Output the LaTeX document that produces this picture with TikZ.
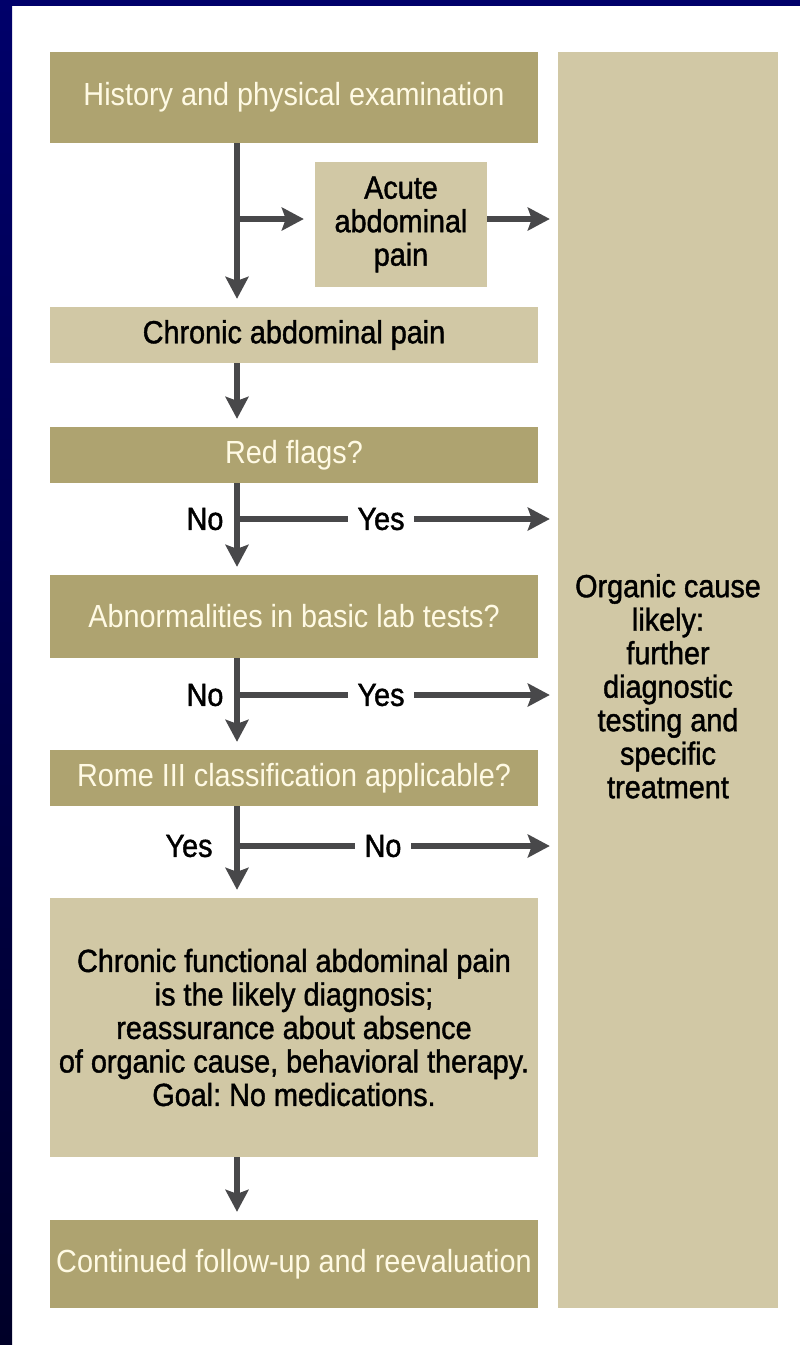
\documentclass[tikz,border=0pt]{standalone}
\usepackage{fontspec}
\setmainfont{Liberation Sans}[FakeStretch=0.9]
\newfontfamily\medfont{Liberation Sans}[FakeStretch=0.9, FakeBold=1.3]
\usetikzlibrary{arrows.meta}
\frenchspacing
\definecolor{darkk}{RGB}{174,163,112}
\definecolor{lightk}{RGB}{209,200,165}
\definecolor{cream}{RGB}{255,250,228}
\definecolor{arrowc}{RGB}{72,72,74}
\definecolor{navyA}{RGB}{0,0,106}
\definecolor{navyB}{RGB}{0,0,40}
\begin{document}
\begin{tikzpicture}[x=1pt,y=-1pt,
 txt/.style={font=\fontsize{32}{33.5}\selectfont},
 box/.style={txt, minimum width=488pt, inner sep=0pt, align=center},
 darkbox/.style={box, fill=darkk, text=cream},
 lightbox/.style={box, fill=lightk, text=black, font=\medfont\fontsize{32}{33.5}\selectfont},
 arr/.style={draw=arrowc, line width=5.5pt, -{Stealth[length=22pt,width=23pt,inset=4pt]}, shorten >=8pt},
 lbl/.style={font=\medfont\fontsize{32}{33.5}\selectfont, text=black, inner sep=0pt},
 gaplbl/.style={lbl, fill=white, inner xsep=10pt, inner ysep=2pt},
]
\useasboundingbox (0,0) rectangle (800,1345);
\fill[white] (0,0) rectangle (800,1345);
\fill[navyA] (0,0) rectangle (800,6);
\shade[top color=navyA, bottom color=navyB] (0,0) rectangle (12,1345);

% boxes
\node[darkbox, minimum height=91pt] (hist) at (294,97.5) {History and physical examination};
\node[lightbox, minimum width=220pt, minimum height=1256pt] (right) at (668,680)
  {\raisebox{-11pt}[\dimexpr\height+11pt\relax][\dimexpr\depth+11pt\relax]{\begin{tabular}{@{}c@{}}Organic cause\\likely:\\further\\diagnostic\\testing and\\specific\\treatment\end{tabular}}};
\node[lightbox, minimum width=172pt, minimum height=125pt] (acute) at (401,224.5) {Acute\\abdominal\\pain};
\node[lightbox, minimum height=56pt] (chron) at (294,335) {Chronic abdominal pain};
\node[darkbox, minimum height=56pt] (red) at (294,455) {Red flags?};
\node[darkbox, minimum height=83pt] (abn) at (294,616.5) {Abnormalities in basic lab tests?};
\node[darkbox, minimum height=56pt] (rome) at (294,778) {Rome III classification applicable?};
\node[lightbox, minimum height=259pt] (cf) at (294,1027.5)
  {Chronic functional abdominal pain\\is the likely diagnosis;\\reassurance about absence\\of organic cause, behavioral therapy.\\Goal: No medications.};
\node[darkbox, minimum height=88pt] (cont) at (294,1264) {Continued follow-up and reevaluation};

% spine and junctions
\coordinate (spine) at (237,0);
\coordinate (b0) at (237,219);
\coordinate (b1) at (237,519);
\coordinate (b2) at (237,695);
\coordinate (b3) at (237,846);

% vertical arrows
\draw[arr] (hist.south -| spine) -- (chron.north -| spine);
\draw[arr] (chron.south -| spine) -- (red.north -| spine);
\draw[arr] (red.south -| spine) -- (abn.north -| spine);
\draw[arr] (abn.south -| spine) -- (rome.north -| spine);
\draw[arr] (rome.south -| spine) -- (cf.north -| spine);
\draw[arr] (cf.south -| spine) -- (cont.north -| spine);

% horizontal arrows
\draw[arr, shorten >=11pt] (b0) -- (acute.west |- b0);
\draw[arr] (acute.east |- b0) -- (right.west |- b0);
\draw[arr] (b1) -- (right.west |- b1);
\draw[arr] (b2) -- (right.west |- b2);
\draw[arr] (b3) -- (right.west |- b3);

% labels
\node[lbl] (no1) at (205,519) {No};
\node[gaplbl] (yes1) at (381,519) {Yes};
\node[lbl] (no2) at (205,695) {No};
\node[gaplbl] (yes2) at (381,695) {Yes};
\node[lbl] (yes3) at (189,846) {Yes};
\node[gaplbl] (no3) at (383,846) {No};
\end{tikzpicture}
\end{document}
